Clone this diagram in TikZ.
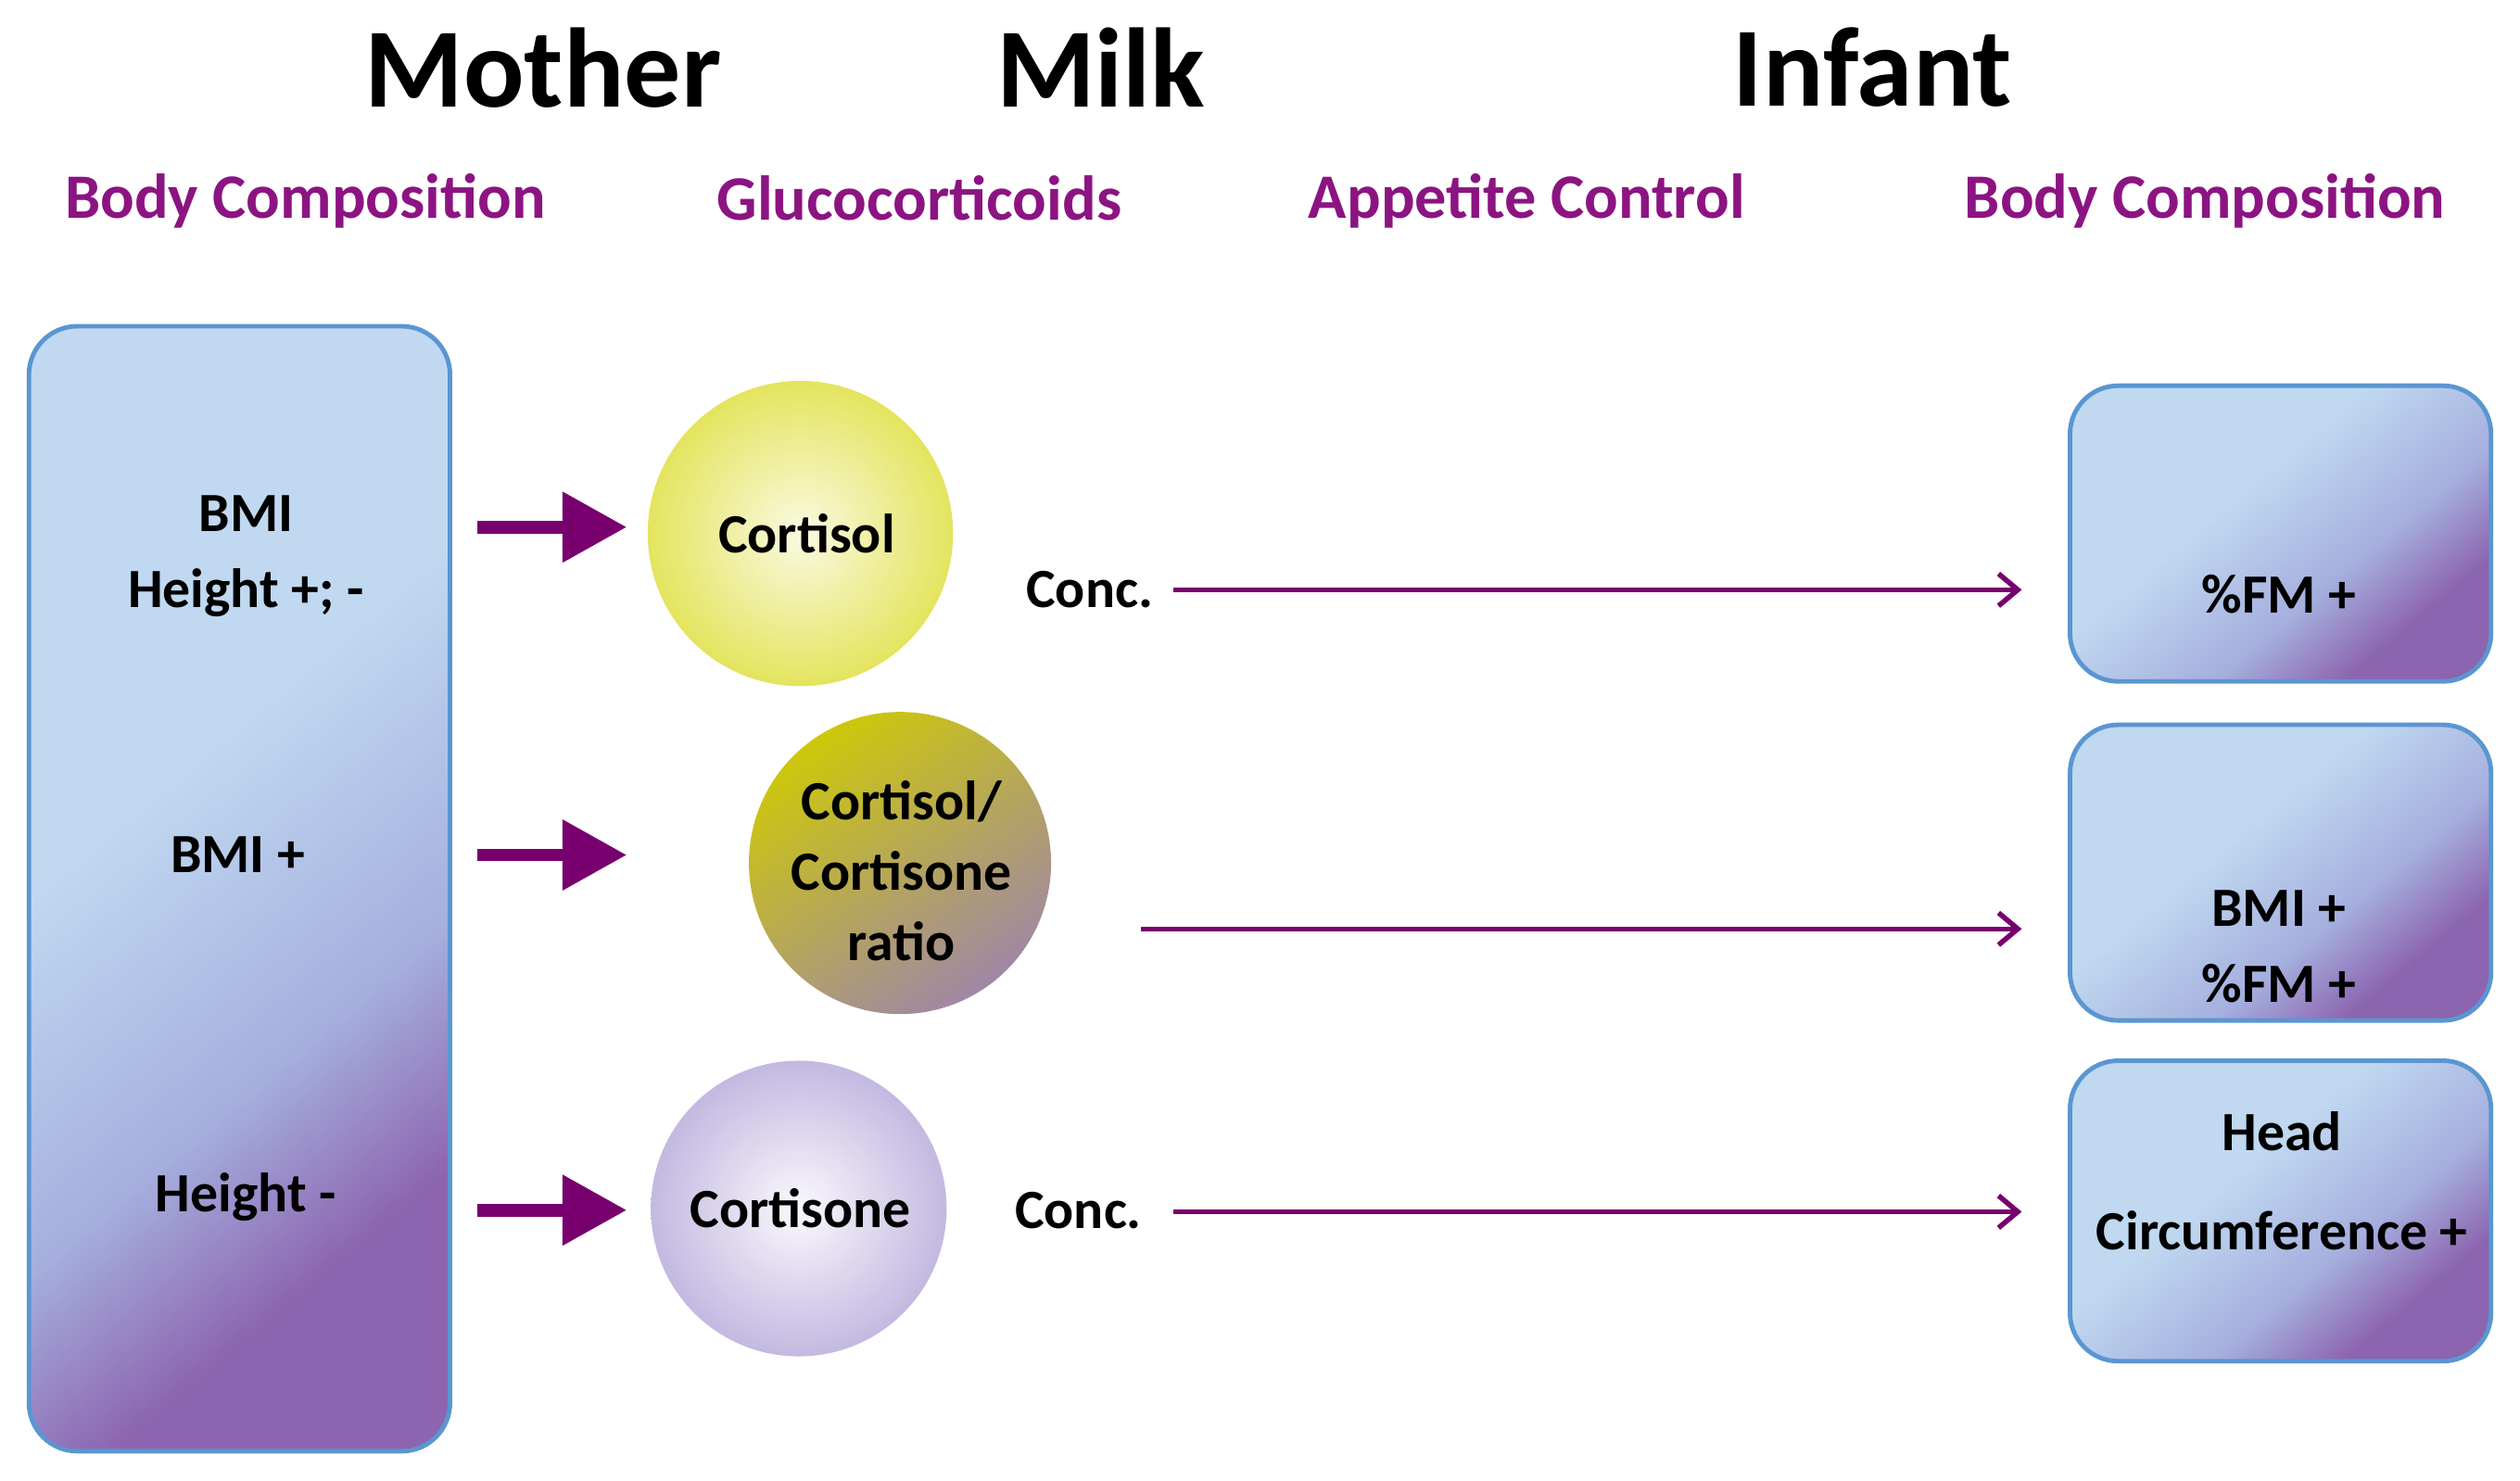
\documentclass[tikz,border=0pt]{standalone}
\usepackage{fontspec}
\setmainfont{Carlito}
\usetikzlibrary{arrows.meta}
\definecolor{hdpurple}{RGB}{140,20,130}
\definecolor{arrpurple}{RGB}{120,0,110}
\definecolor{boxlight}{RGB}{192,216,240}
\definecolor{boxmid}{RGB}{165,175,222}
\definecolor{boxpurple}{RGB}{140,100,175}
\definecolor{boxborder}{RGB}{90,150,210}
\pgfdeclareverticalshading{boxshade}{100bp}{color(0bp)=(boxpurple); color(28bp)=(boxpurple); color(40bp)=(boxmid); color(58bp)=(boxlight); color(100bp)=(boxlight)}
\tikzset{
 title/.style={font=\fontsize{20}{24}\selectfont\bfseries},
 subhead/.style={font=\fontsize{11.2}{14}\selectfont\bfseries, text=hdpurple},
 lbl/.style={font=\fontsize{9.8}{12.5}\selectfont\bfseries, align=center},
 gbox/.style={draw=boxborder, line width=0.8pt, rounded corners=0.3cm, shading=boxshade, shading angle=40},
 bigarrow/.style={-{Triangle[length=0.4cm,width=0.42cm]}, line width=0.08cm, draw=arrpurple},
 thinarrow/.style={-{Straight Barb[length=0.12cm,width=0.2cm]}, line width=0.9pt, draw=arrpurple},
}
\begin{document}
\begin{tikzpicture}[x=0.01cm,y=-0.01cm]
\useasboundingbox (0,0) rectangle (1568,921);
\node[title] (t1) at (338,42) {Mother};
\node[title] (t2) at (685,42) {Milk};
\node[title] (t3) at (1165,42) {Infant};
\node[subhead] (s1) at (190,125) {Body Composition};
\node[subhead] (s2) at (572,123) {Glucocorticoids};
\node[subhead] (s3) at (950,125) {Appetite Control};
\node[subhead] (s4) at (1372,125) {Body Composition};
\shade[gbox] (18,203) rectangle (280,903);
\node[lbl] (l1) at (153,346) {BMI\\[1pt]Height +; -};
\node[lbl] (l2) at (148,532) {BMI +};
\node[lbl] (l3) at (153,745) {Height -};
\coordinate (a1s) at (297,328); \coordinate (a1e) at (390,328);
\coordinate (a2s) at (297,532); \coordinate (a2e) at (390,532);
\coordinate (a3s) at (297,753); \coordinate (a3e) at (390,753);
\draw[bigarrow] (a1s) -- (a1e);
\draw[bigarrow] (a2s) -- (a2e);
\draw[bigarrow] (a3s) -- (a3e);
\shade[inner color={rgb,255:red,250;green,250;blue,225}, outer color={rgb,255:red,228;green,228;blue,95}] (498,332) circle (95);
\node[lbl] (c1) at (502,332) {Cortisol};
\shade[shading=axis, top color={rgb,255:red,205;green,200;blue,10}, bottom color={rgb,255:red,160;green,135;blue,165}, shading angle=35] (560,537) circle (94);
\node[lbl] (c2) at (561,542) {Cortisol/\\Cortisone\\ratio};
\shade[inner color={rgb,255:red,250;green,248;blue,252}, outer color={rgb,255:red,195;green,185;blue,225}] (497,752) circle (92);
\node[lbl] (c3) at (498,752) {Cortisone};
\node[lbl] (k1) at (678,367) {Conc.};
\node[lbl] (k3) at (671,753) {Conc.};
\coordinate (b1s) at (730,367); \coordinate (b1e) at (1258,367);
\coordinate (b2s) at (710,578); \coordinate (b2e) at (1258,578);
\coordinate (b3s) at (730,754); \coordinate (b3e) at (1258,754);
\draw[thinarrow] (b1s) -- (b1e);
\draw[thinarrow] (b2s) -- (b2e);
\draw[thinarrow] (b3s) -- (b3e);
\shade[gbox] (1288,240) rectangle (1550,424);
\shade[gbox] (1288,451) rectangle (1550,635);
\shade[gbox] (1288,660) rectangle (1550,847);
\node[lbl] (r1) at (1418,370) {\%FM \textbf{+}};
\node[lbl] (r2) at (1418,589) {BMI +\\[1pt]\%FM +};
\node[lbl] (r3) at (1420,735) {Head\\[5pt]Circumference +};
\end{tikzpicture}
\end{document}
